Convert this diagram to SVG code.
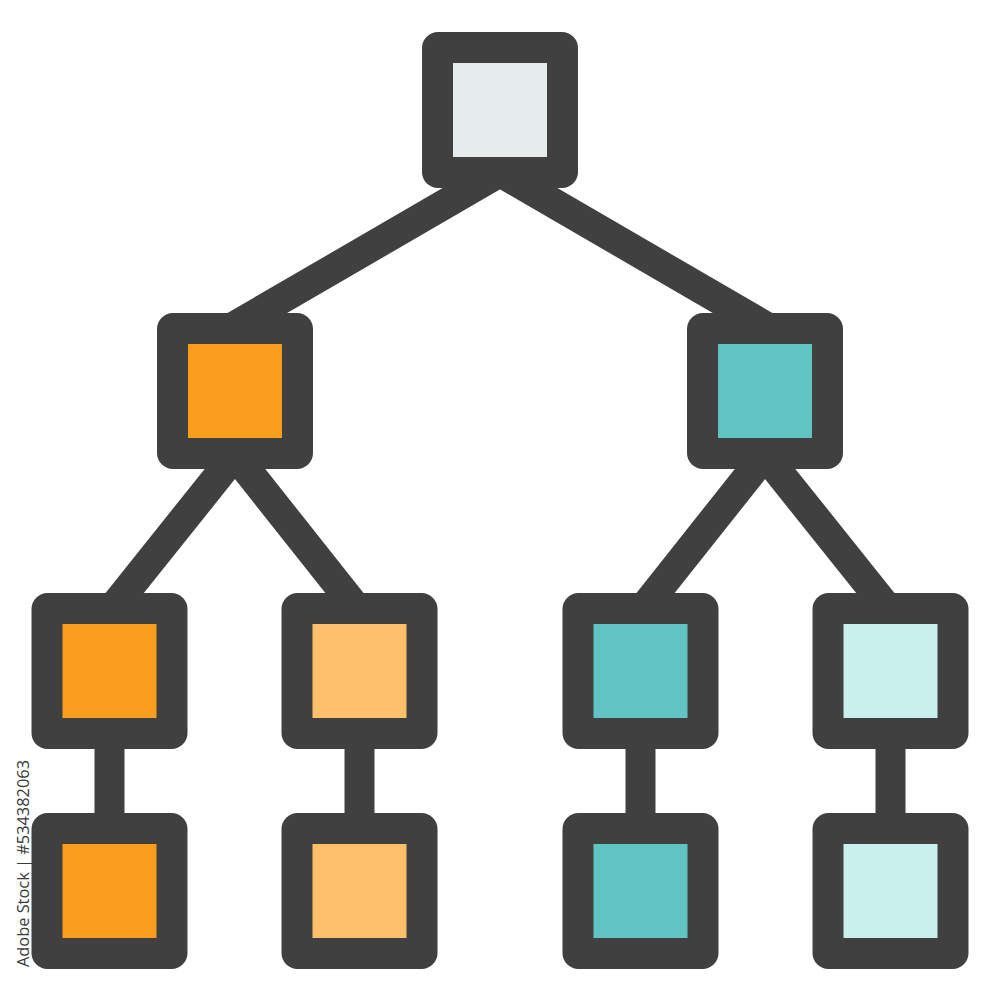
<svg xmlns="http://www.w3.org/2000/svg" width="1000" height="1000" viewBox="0 0 1000 1000">
  <defs>
    <style>
      .frame { fill: #404040; }
      .link { stroke: #404040; stroke-width: 30; fill: none; stroke-linecap: butt; }
      .grey { fill: #e6ecec; }
      .orange { fill: #fc9e1d; }
      .lorange { fill: #fec06a; }
      .teal { fill: #60c4c2; }
      .lteal { fill: #caf0ed; }
      .credit { font-family: "Open Sans", "Liberation Sans", sans-serif; font-size: 17px; fill: #3a3a3a; }
    </style>
  </defs>
  <rect width="1000" height="1000" fill="#ffffff"/>
  <g id="connectors">
    <line class="link" x1="500" y1="172" x2="235" y2="326"/>
    <line class="link" x1="500" y1="172" x2="765" y2="326"/>
    <line class="link" x1="235" y1="455" x2="109.5" y2="612"/>
    <line class="link" x1="235" y1="455" x2="359.5" y2="612"/>
    <line class="link" x1="765" y1="455" x2="640.5" y2="612"/>
    <line class="link" x1="765" y1="455" x2="890.5" y2="612"/>
    <line class="link" x1="109.5" y1="740" x2="109.5" y2="822"/>
    <line class="link" x1="359.5" y1="740" x2="359.5" y2="822"/>
    <line class="link" x1="640.5" y1="740" x2="640.5" y2="822"/>
    <line class="link" x1="890.5" y1="740" x2="890.5" y2="822"/>
  </g>
  <g id="node-root">
    <rect class="frame" x="422" y="32" width="156" height="156" rx="16"/>
    <rect class="grey" x="453" y="63" width="94" height="94"/>
  </g>
  <g id="node-l2-left">
    <rect class="frame" x="157" y="313" width="156" height="156" rx="16"/>
    <rect class="orange" x="188" y="344" width="94" height="94"/>
  </g>
  <g id="node-l2-right">
    <rect class="frame" x="687" y="313" width="156" height="156" rx="16"/>
    <rect class="teal" x="718" y="344" width="94" height="94"/>
  </g>
  <g id="node-l3-1">
    <rect class="frame" x="31.5" y="593" width="156" height="156" rx="16"/>
    <rect class="orange" x="62.5" y="624" width="94" height="94"/>
  </g>
  <g id="node-l3-2">
    <rect class="frame" x="281.5" y="593" width="156" height="156" rx="16"/>
    <rect class="lorange" x="312.5" y="624" width="94" height="94"/>
  </g>
  <g id="node-l3-3">
    <rect class="frame" x="562.5" y="593" width="156" height="156" rx="16"/>
    <rect class="teal" x="593.5" y="624" width="94" height="94"/>
  </g>
  <g id="node-l3-4">
    <rect class="frame" x="812.5" y="593" width="156" height="156" rx="16"/>
    <rect class="lteal" x="843.5" y="624" width="94" height="94"/>
  </g>
  <g id="node-l4-1">
    <rect class="frame" x="31.5" y="813" width="156" height="156" rx="16"/>
    <rect class="orange" x="62.5" y="844" width="94" height="94"/>
  </g>
  <g id="node-l4-2">
    <rect class="frame" x="281.5" y="813" width="156" height="156" rx="16"/>
    <rect class="lorange" x="312.5" y="844" width="94" height="94"/>
  </g>
  <g id="node-l4-3">
    <rect class="frame" x="562.5" y="813" width="156" height="156" rx="16"/>
    <rect class="teal" x="593.5" y="844" width="94" height="94"/>
  </g>
  <g id="node-l4-4">
    <rect class="frame" x="812.5" y="813" width="156" height="156" rx="16"/>
    <rect class="lteal" x="843.5" y="844" width="94" height="94"/>
  </g>
  <text class="credit" x="29" y="967" transform="rotate(-90 29 967)" textLength="207" lengthAdjust="spacingAndGlyphs">Adobe Stock | #534382063</text>
</svg>
